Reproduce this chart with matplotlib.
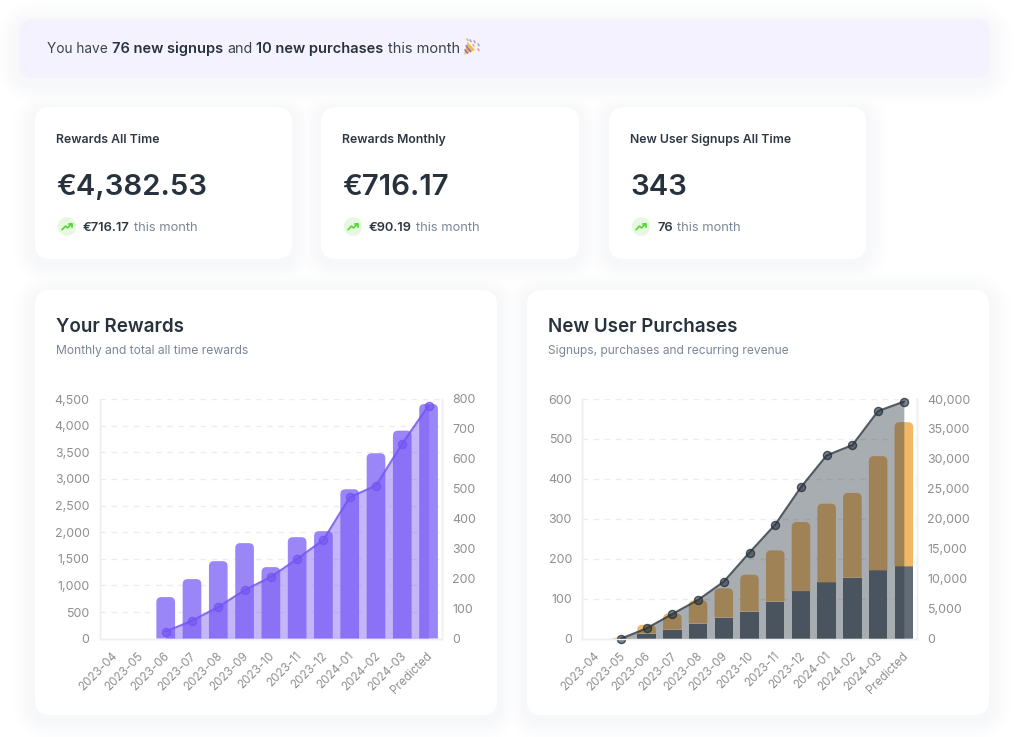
import matplotlib
matplotlib.use("Agg")
import matplotlib.pyplot as plt
import numpy as np
from matplotlib.patches import FancyBboxPatch, PathPatch, Circle, Polygon
from matplotlib.path import Path
from matplotlib.ticker import FuncFormatter, MultipleLocator
from matplotlib.transforms import ScaledTranslation

plt.rcParams['font.family'] = ['Inter', 'DejaVu Sans']

W, H = 1024, 737

months = ['2023-04', '2023-05', '2023-06', '2023-07', '2023-08', '2023-09', '2023-10',
          '2023-11', '2023-12', '2024-01', '2024-02', '2024-03', 'Predicted']

# rewards chart
rewards_total = [0, 0, 781, 1119, 1456, 1794, 1344, 1906, 2019, 2806, 3481, 3906, 4406]
rewards_monthly = [None, None, 24, 60, 106, 162, 206, 266, 330, 472, 511, 651, 778]

# purchases chart
purchases = [0, 0, 13, 23, 38, 53, 68, 93, 119, 141, 153, 171, 181]
signups_top = [0, 2.5, 35, 63, 96, 126, 160, 221, 292, 338, 365, 457, 542]
revenue = [None, 0, 1727, 4122, 6462, 9526, 14373, 19053, 25292, 30585, 32312, 37994, 39554]

stat_titles = ['Rewards All Time', 'Rewards Monthly', 'New User Signups All Time']
stat_values = ['€4,382.53', '€716.17', '343']
stat_deltas = ['€716.17', '€90.19', '76']

INK = '#27323d'
MUTED = '#7b8794'
TICK = '#8f8f8f'

BANNER_BOX = (19, 19, 990, 78)
STAT_BOXES = [(35, 107, 292, 259), (321, 107, 579, 259), (609, 107, 866, 259)]
CHART_BOXES = [(35, 290, 497, 715), (527, 290, 989, 715)]


def px(size):
    return size * 0.72


fig = plt.figure(figsize=(W / 100, H / 100), dpi=100, facecolor='white')
bg = fig.add_axes([0, 0, 1, 1])
bg.axis('off')


def draw_shadows(boxes, r=15, sigma=15, strength=0.04):
    # one soft shadow layer for all the cards, from a rounded box distance field
    yy, xx = np.mgrid[0:H, 0:W] + 0.5
    alpha = np.zeros((H, W))
    for x0, y0, x1, y1 in boxes:
        dx = np.abs(xx - (x0 + x1) / 2) - ((x1 - x0) / 2 - r)
        dy = np.abs(yy - (y0 + y1) / 2 - 4) - ((y1 - y0) / 2 - r)
        d = np.hypot(np.maximum(dx, 0), np.maximum(dy, 0)) - r
        alpha = np.maximum(alpha, strength * np.exp(-(np.maximum(d, 0) / sigma) ** 2))
    layer = np.zeros((H, W, 4))
    layer[..., :3] = (0.25, 0.32, 0.48)
    layer[..., 3] = alpha
    bg.imshow(layer, extent=(0, W, H, 0), aspect='auto', interpolation='nearest', zorder=0)


def card(x0, y0, x1, y1, r=15, face='white'):
    bg.add_patch(FancyBboxPatch((x0 + r, y0 + r), x1 - x0 - 2 * r, y1 - y0 - 2 * r,
                                boxstyle=f'round,pad={r},rounding_size={r}',
                                fc=face, ec='none'))


def txt(x, y, s, size, color=INK, weight='normal'):
    return bg.text(x, y, s, fontsize=px(size), color=color, weight=weight, ha='left', va='center')


def trend_icon(cx, cy):
    bg.add_patch(Circle((cx, cy), 9.2, fc='#e6f8e0', ec='none'))
    xs = [cx - 5, cx - 1.6, cx + 0.6, cx + 4.6]
    ys = [cy + 3.2, cy - 0.4, cy + 1.4, cy - 2.8]
    bg.plot(xs, ys, color='#52d62f', lw=1.2, solid_capstyle='round')
    bg.plot([cx + 1.8, cx + 4.8, cx + 4.8], [cy - 3, cy - 3, cy], color='#52d62f', lw=1.2)


def party_popper(x, y):
    bg.add_patch(Polygon([(x, y + 7.5), (x + 3.5, y - 5), (x + 11, y + 3)], fc='#f0bd45', ec='none'))
    bg.plot([x + 2.2, x + 6.5], [y - 1, y + 4.5], color='#8a6fd0', lw=1.1)
    bg.plot([x + 1, x + 3.5], [y + 3, y + 6], color='#8a6fd0', lw=1.1)
    for dx, dy, c in [(6, -7, '#7fa8e8'), (10, -6, '#ee82a8'), (14, -3, '#7fa8e8'),
                      (9, -2.5, '#f0b050'), (14, 2, '#ee82a8'), (3, -8, '#f0b050')]:
        bg.plot([x + dx, x + dx + 1], [y + dy, y + dy + 1.5], color=c, lw=1)


draw_shadows([BANNER_BOX] + STAT_BOXES + CHART_BOXES)
bg.set_xlim(0, W)
bg.set_ylim(H, 0)

# top banner
card(*BANNER_BOX, face='#f4f2fe')
txt(47, 48.5, 'You have', 13.7, '#3a444f')
txt(112, 48.5, '76 new signups', 14.6, INK, 'semibold')
txt(227, 48.5, 'and', 14.2, '#3a444f')
txt(256, 48.5, '10 new purchases', 14.6, INK, 'semibold')
txt(388, 48.5, 'this month', 14.6, '#3a444f')
party_popper(464, 47)

# stat cards
for box, title, value, delta in zip(STAT_BOXES, stat_titles, stat_values, stat_deltas):
    x0 = box[0]
    card(*box)
    txt(x0 + 21.5, 140, title, 12.3, '#2e3843', 'semibold')
    txt(x0 + 21.5, 187, value, 29.3, INK, 'semibold')
    trend_icon(x0 + 32, 226.5)
    t = txt(x0 + 48, 227.5, delta, 12.9, '#2e3843', 'semibold')
    fig.canvas.draw()
    end = bg.transData.inverted().transform(t.get_window_extent().get_points())[1][0]
    txt(end + 4, 227.5, 'this month', 12.9, MUTED)

# chart cards
for box in CHART_BOXES:
    card(*box)
txt(56, 326.5, 'Your Rewards', 18.8, INK, 'semibold')
txt(56, 351, 'Monthly and total all time rewards', 12.1, MUTED)
txt(548, 326.5, 'New User Purchases', 18.8, INK, 'semibold')
txt(548, 351, 'Signups, purchases and recurring revenue', 12, MUTED)


def make_axes(left, right):
    top, bottom = 399, 638.7
    ax = fig.add_axes([left / W, 1 - bottom / H, (right - left) / W, (bottom - top) / H])
    ax.patch.set_alpha(0)
    ax2 = ax.twinx()
    ax2.patch.set_alpha(0)
    for a in (ax, ax2):
        a.set_xlim(-0.5, 12.5)
        a.tick_params(length=0, labelsize=px(12.4), labelcolor=TICK, pad=7.5)
        for s in a.spines.values():
            s.set_color('#efefef')
            s.set_linewidth(1)
        a.spines['top'].set_visible(False)
    ax.set_xticks(range(len(months)))
    ax.set_xticklabels(months, rotation=45, ha='right', rotation_mode='anchor')
    ax.tick_params(axis='x', pad=9, labelsize=px(11.6))
    # nudge the slanted labels left so they end under the ticks
    nudge = ScaledTranslation(-2 / 100, 1 / 100, fig.dpi_scale_trans)
    for label in ax.get_xticklabels():
        label.set_transform(label.get_transform() + nudge)
    ax.yaxis.grid(True, color='#ececec', lw=1, ls=(0, (4, 4)))
    ax.set_axisbelow(True)
    fmt = FuncFormatter(lambda v, _: f'{int(v):,}')
    ax.yaxis.set_major_formatter(fmt)
    ax2.yaxis.set_major_formatter(fmt)
    return ax, ax2


def round_tops(ax, rects, radius=5):
    # swap the square bar tops for rounded ones, radius given in pixels
    box = ax.get_window_extent()
    x0, x1 = ax.get_xlim()
    y0, y1 = ax.get_ylim()
    sx = (x1 - x0) / box.width
    sy = (y1 - y0) / box.height
    for rect in rects:
        x, y, w, h = rect.get_x(), rect.get_y(), rect.get_width(), rect.get_height()
        if h <= 0:
            continue
        rx = radius * sx
        ry = min(radius * sy, h)
        verts = [(x, y), (x, y + h - ry), (x, y + h), (x + rx, y + h), (x + w - rx, y + h),
                 (x + w, y + h), (x + w, y + h - ry), (x + w, y), (x, y)]
        codes = [Path.MOVETO, Path.LINETO, Path.CURVE3, Path.CURVE3, Path.LINETO,
                 Path.CURVE3, Path.CURVE3, Path.LINETO, Path.CLOSEPOLY]
        ax.add_patch(PathPatch(Path(verts, codes), fc=rect.get_facecolor(), ec='none',
                               zorder=rect.get_zorder()))
        rect.set_visible(False)


def line_with_area(ax, values, rgb, area_alpha, line_alpha, face_alpha):
    xs = [i for i, v in enumerate(values) if v is not None]
    ys = [values[i] for i in xs]
    ax.fill_between(xs, ys, 0, color=rgb, alpha=area_alpha, lw=0)
    ax.plot(xs, ys, color=(*rgb, line_alpha), lw=1.5, clip_on=False)
    ax.plot(xs, ys, ls='none', marker='o', ms=5.8, mfc=(*rgb, face_alpha),
            mec=(*rgb, line_alpha), mew=1.0, clip_on=False)


# left chart
ax, ax2 = make_axes(100, 441.7)
ax.set_ylim(0, 4500)
ax.yaxis.set_major_locator(MultipleLocator(500))
ax2.set_ylim(0, 800)
ax2.yaxis.set_major_locator(MultipleLocator(100))
bars = ax.bar(range(len(months)), rewards_total, width=0.71, color='#9b86f8', zorder=2)
round_tops(ax, bars)
line_with_area(ax2, rewards_monthly, (0.45, 0.33, 0.95), 0.42, 0.85, 0.6)

# right chart
ax, ax2 = make_axes(582.3, 916.7)
ax.set_ylim(0, 600)
ax.yaxis.set_major_locator(MultipleLocator(100))
ax2.set_ylim(0, 40000)
ax2.yaxis.set_major_locator(MultipleLocator(5000))
orange = [t - p for t, p in zip(signups_top, purchases)]
ax.bar(range(len(months)), purchases, width=0.72, color='#626c76', zorder=2)
bars = ax.bar(range(len(months)), orange, width=0.72, bottom=purchases, color='#f0b866', zorder=2)
round_tops(ax, bars)
line_with_area(ax2, revenue, (0.153, 0.196, 0.239), 0.4, 0.8, 0.6)

fig.savefig('out.png', dpi=100, facecolor='white')
